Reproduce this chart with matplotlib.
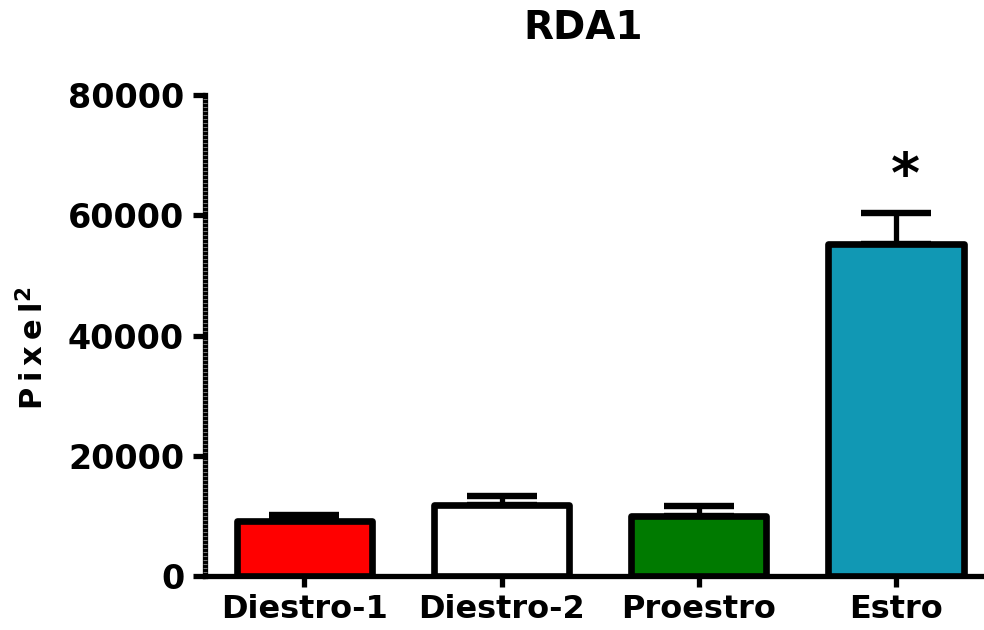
import matplotlib.pyplot as plt
from matplotlib.ticker import MultipleLocator

# Data
groups = ["Diestro-1", "Diestro-2", "Proestro", "Estro"]
means = [9100, 11800, 10000, 55300]
sem = [1000, 1500, 1650, 5000]
colors = ["#FF0000", "#FFFFFF", "#007A00", "#1198B4"]
y_ticks = [0, 20000, 40000, 60000, 80000]

plt.rcParams["font.family"] = "DejaVu Sans"
plt.rcParams["font.weight"] = "bold"

fig = plt.figure(figsize=(9.84, 6.3), dpi=100)
ax = fig.add_axes([0.2083, 0.0857, 0.7917, 0.7635])

x = list(range(len(groups)))

# error bars (upper only) drawn below the bars
ax.errorbar(x, means, yerr=[[0] * len(sem), sem], fmt="none",
            ecolor="black", elinewidth=3.8, capsize=25, capthick=4.6,
            zorder=2)
ax.bar(x, means, width=0.685, color=colors, edgecolor="black",
       linewidth=4.8, joinstyle="round", zorder=3)

# significance marker
ax.text(3.05, means[3] + sem[3] + 6000, "*", ha="center", va="center",
        fontsize=40, fontweight="bold")

ax.set_xlim(-0.504, 3.446)
ax.set_ylim(0, 80000)
ax.set_xticks(x)
ax.set_xticklabels(groups, fontsize=23, fontweight="bold")
ax.set_yticks(y_ticks)
ax.set_yticklabels([str(v) for v in y_ticks], fontsize=24,
                   fontweight="bold")
ax.yaxis.set_minor_locator(MultipleLocator(20000 / 30))
ax.xaxis.set_minor_locator(MultipleLocator(0.0205))

ax.tick_params(axis="both", which="major", direction="out", width=3.8,
               color="black")
ax.tick_params(axis="y", which="major", length=9, pad=6)
ax.tick_params(axis="x", which="major", length=8, pad=5)
ax.tick_params(axis="both", which="minor", direction="inout", length=3.5,
               width=0.6, color="#8a8a8a")

for side in ["top", "right"]:
    ax.spines[side].set_visible(False)
ax.spines["left"].set_linewidth(3.8)
ax.spines["bottom"].set_linewidth(3.8)
ax.spines["left"].set_bounds(0, 80000)
ax.spines["left"].set_zorder(1)

ax.set_ylabel("P\u2009i\u2009x\u2009e\u2009l$^{\\mathbf{2}}$", fontsize=22,
              fontweight="bold")
ax.yaxis.set_label_coords(-0.2, 0.474)
ax.set_title("RDA1", fontsize=28, fontweight="bold", pad=40, x=0.485)

fig.savefig("out.png", dpi=100)
